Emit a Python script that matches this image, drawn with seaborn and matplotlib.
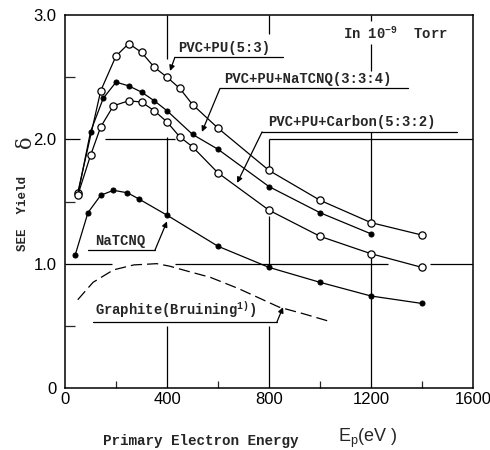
import matplotlib
matplotlib.use("Agg")
import matplotlib.pyplot as plt
import seaborn as sns

# ---- data ----
pvcpu_x = [50, 140, 200, 250, 300, 350, 400, 450, 500, 600, 800, 1000, 1200, 1400]
pvcpu_y = [1.57, 2.39, 2.67, 2.77, 2.70, 2.58, 2.50, 2.41, 2.28, 2.09, 1.75, 1.51, 1.33, 1.23]

mix_x = [50, 100, 150, 200, 250, 300, 350, 400, 500, 600, 800, 1000, 1200]
mix_y = [1.55, 2.06, 2.33, 2.46, 2.43, 2.38, 2.31, 2.23, 2.04, 1.92, 1.62, 1.41, 1.24]

carbon_x = [50, 100, 140, 190, 250, 300, 350, 400, 450, 500, 600, 800, 1000, 1200, 1400]
carbon_y = [1.55, 1.87, 2.10, 2.27, 2.31, 2.30, 2.23, 2.14, 2.02, 1.94, 1.73, 1.43, 1.22, 1.08, 0.97]

natcnq_x = [40, 90, 140, 190, 245, 290, 400, 600, 800, 1000, 1200, 1400]
natcnq_y = [1.07, 1.41, 1.55, 1.59, 1.57, 1.52, 1.39, 1.14, 0.97, 0.85, 0.74, 0.68]

graphite_x = [50, 110, 190, 270, 360, 410, 480, 570, 680, 840, 930, 1030]
graphite_y = [0.71, 0.85, 0.95, 0.99, 1.00, 0.98, 0.94, 0.89, 0.80, 0.65, 0.60, 0.54]

x_ticks = [0, 400, 800, 1200, 1600]
x_ticklabels = ["0", "400", "800", "1200", "1600"]
y_ticks = [0, 1, 2, 3]
y_ticklabels = ["0", "1.0", "2.0", "3.0"]

sns.set_style("white")
plt.rcParams["font.family"] = ["Liberation Sans", "DejaVu Sans"]
plt.rcParams["mathtext.default"] = "regular"

fig = plt.figure(figsize=(4.9, 4.5), dpi=100)
ax = fig.add_axes([65 / 490, 1 - 388 / 450, 408 / 490, 373 / 450])

mono = dict(family=["Liberation Mono", "DejaVu Sans Mono"], fontweight="bold")

# ---- partial grid lines ----
gkw = dict(color="black", lw=0.9, zorder=1)
ax.vlines([400] * 3, [2.65, 1.39, 0], [3.0, 2.02, 0.5], **gkw)
ax.vlines([800] * 4, [2.85, 1.76, 0.97, 0], [3.0, 2.0, 1.38, 0.5], **gkw)
ax.vlines([1200] * 4, [2.95, 2.55, 1.33, 0], [3.0, 2.77, 2.06, 1.08], **gkw)
ax.hlines([1.0] * 3, [0, 430, 1430], [185, 1265, 1600], **gkw)
ax.hlines([2.0] * 3, [0, 155, 800], [60, 430, 1600], **gkw)

# ---- series ----
lkw = dict(color="black", lw=0.9, estimator=None, sort=False, legend=False, ax=ax)
sns.lineplot(x=pvcpu_x, y=pvcpu_y, marker="o", markersize=5.2, markerfacecolor="white",
             markeredgecolor="black", markeredgewidth=0.9, zorder=3, **lkw)
sns.lineplot(x=mix_x, y=mix_y, marker="o", markersize=3.6, markerfacecolor="black",
             markeredgecolor="black", zorder=3, **lkw)
sns.lineplot(x=carbon_x, y=carbon_y, marker="o", markersize=5.2, markerfacecolor="white",
             markeredgecolor="black", markeredgewidth=0.9, zorder=3, **lkw)
sns.lineplot(x=natcnq_x, y=natcnq_y, marker="o", markersize=3.6, markerfacecolor="black",
             markeredgecolor="black", zorder=3, **lkw)
sns.lineplot(x=graphite_x, y=graphite_y, dashes=False, zorder=3, **lkw)
ax.lines[-1].set_dashes([9, 4])

# ---- labels with underline + arrow ----
def label(text, tx, ty, ux0, ux1, uy, tip, start="left", fs=10):
    ax.text(tx, ty, text, fontsize=fs, ha="left", va="bottom", zorder=4, **mono)
    ax.plot([ux0, ux1], [uy, uy], color="black", lw=0.9, zorder=4)
    sx = ux0 if start == "left" else ux1
    ax.annotate("", xy=tip, xytext=(sx, uy),
                arrowprops=dict(arrowstyle="-|>", color="black", lw=0.9,
                                mutation_scale=8, shrinkA=0, shrinkB=0), zorder=4)

label("PVC+PU(5:3)", 445, 2.675, 431, 855, 2.66, (412, 2.55))
label("PVC+PU+NaTCNQ(3:3:4)", 625, 2.43, 608, 1345, 2.41, (537, 2.06))
label("PVC+PU+Carbon(5:3:2)", 795, 2.08, 773, 1537, 2.06, (675, 1.65))
label("NaTCNQ", 118, 1.125, 90, 353, 1.11, (400, 1.34), start="right")
label("Graphite(Bruining$^{1)}$)", 118, 0.545, 110, 831, 0.53, (855, 0.65), start="right")

ax.text(1090, 2.78, "In 10$^{-9}$  Torr", fontsize=10, ha="left", va="bottom", **mono)

# ---- axes ----
ax.set_xlim(0, 1600)
ax.set_ylim(0, 3.0)
ax.set_xticks(x_ticks)
ax.set_xticklabels(x_ticklabels, fontsize=12)
ax.set_yticks(y_ticks)
ax.set_yticklabels(y_ticklabels, fontsize=12)
ax.set_xticks([200, 600, 1000, 1400], minor=True)
ax.set_yticks([0.5, 1.5, 2.5], minor=True)
ax.tick_params(axis="both", which="major", direction="in", length=4, width=0.9,
               colors="black", pad=3)
ax.tick_params(axis="x", which="minor", direction="in", length=5, width=0.9, bottom=True)
ax.tick_params(axis="y", which="minor", direction="in", length=7, width=0.9, left=True)
ax.tick_params(axis="y", which="major", pad=6)
for s in ax.spines.values():
    s.set_visible(True)
    s.set_color("black")
    s.set_linewidth(1.1)
ax.set_xlabel("")
ax.set_ylabel("")

fig.text(103 / 490, 1 - 441 / 450, "Primary Electron Energy", fontsize=10.3,
         ha="left", va="center", **mono)
fig.text(338 / 490, 1 - 438 / 450, "E$_p$(eV )", fontsize=13, ha="left", va="center",
         family=["Liberation Sans", "DejaVu Sans"])
fig.text(23 / 490, 1 - 214 / 450, "SEE  Yield", fontsize=9, rotation=90,
         ha="center", va="center", **mono)
fig.text(25 / 490, 1 - 142 / 450, "δ", fontsize=15, rotation=90,
         ha="center", va="center", family=["DejaVu Serif"])

fig.savefig("out.png", dpi=100, facecolor="white")
